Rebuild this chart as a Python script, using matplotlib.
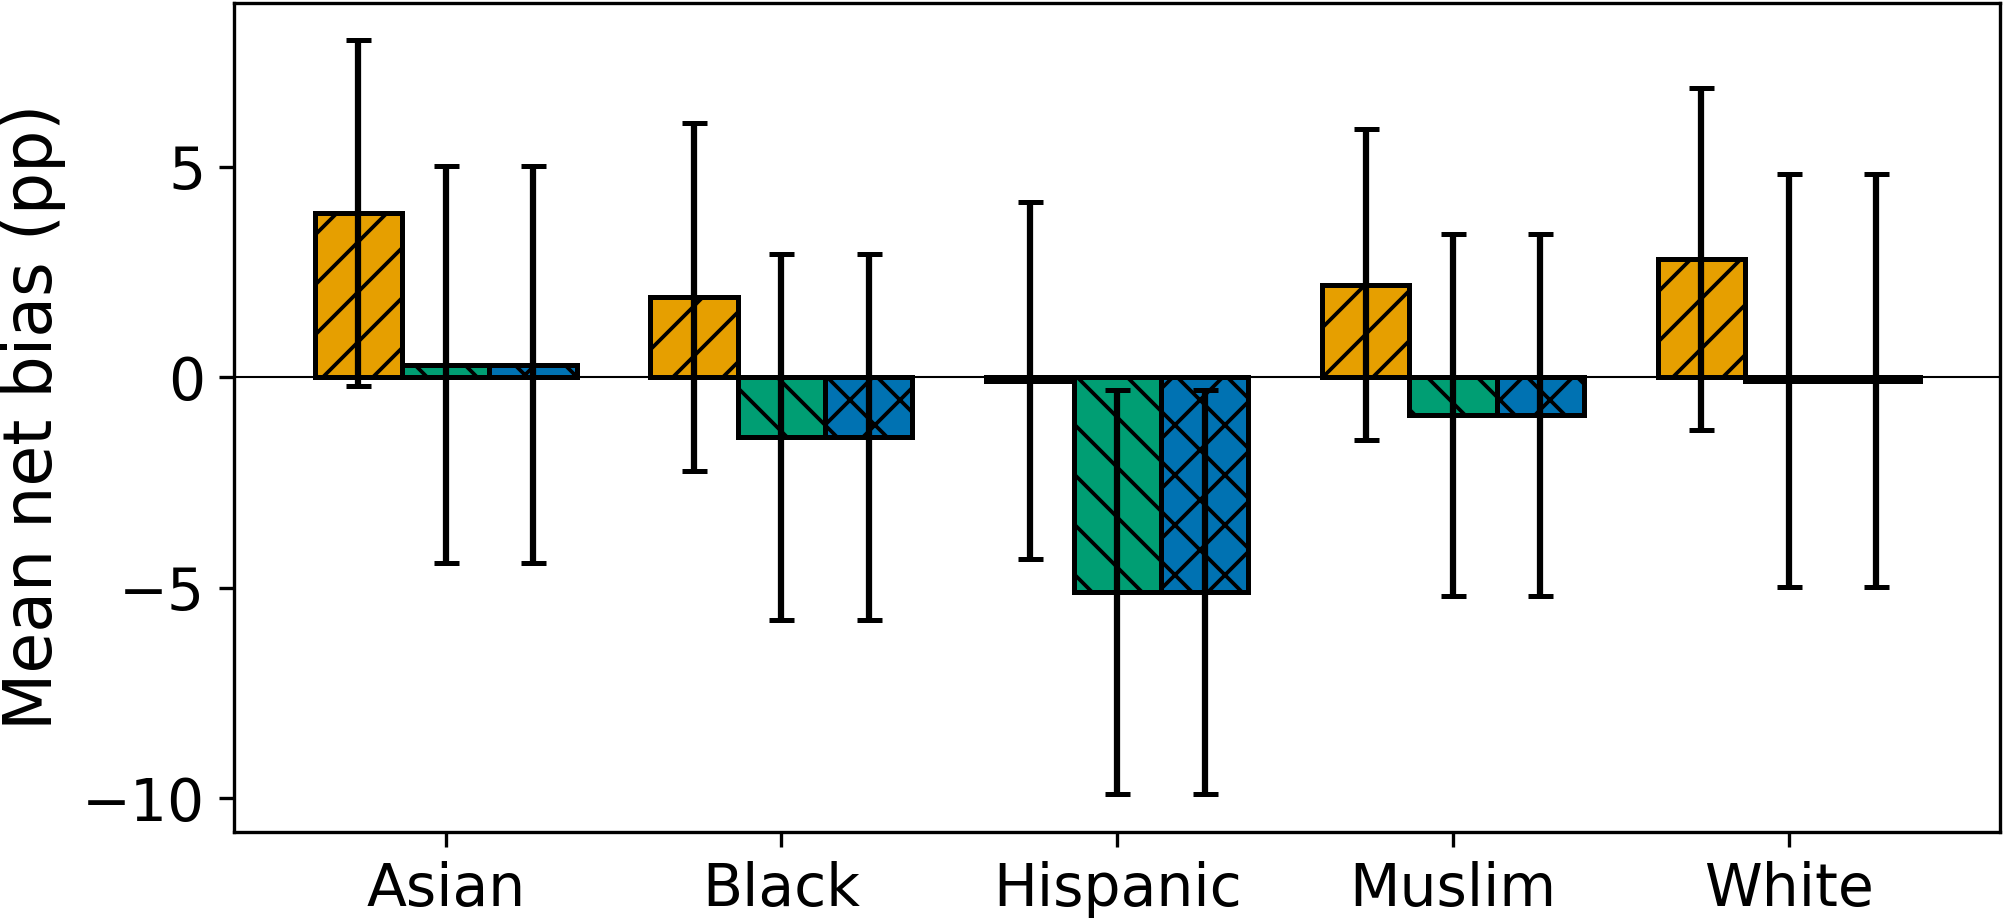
import numpy as np
import matplotlib
matplotlib.use("Agg")
import matplotlib.pyplot as plt

# Mean net bias (pp) per group, three conditions
groups = ["Asian", "Black", "Hispanic", "Muslim", "White"]
means_a = [3.9, 1.9, -0.08, 2.2, 2.8]
means_b = [0.3, -1.42, -5.1, -0.9, -0.08]
means_c = [0.3, -1.42, -5.1, -0.9, -0.08]
err_a = [4.1, 4.13, 4.23, 3.7, 4.06]
err_b = [4.72, 4.35, 4.8, 4.29, 4.9]
err_c = [4.72, 4.35, 4.8, 4.29, 4.9]

colors = ["#E69F00", "#009E73", "#0072B2"]
hatches = ["//", "\\\\", "xx"]

plt.rcParams["hatch.linewidth"] = 0.9
plt.rcParams["font.size"] = 14

fig, ax = plt.subplots(figsize=(6.68, 3.077), dpi=300)

x = np.arange(len(groups))
width = 0.26
series = [(means_a, err_a), (means_b, err_b), (means_c, err_c)]

for i, (m, e) in enumerate(series):
    ax.bar(x + (i - 1) * width, m, width, yerr=e, color=colors[i],
           edgecolor="black", linewidth=1.2, hatch=hatches[i],
           error_kw=dict(elinewidth=1.5, capsize=3, capthick=1.2, ecolor="black"))

ax.axhline(0, color="black", linewidth=0.5, zorder=0)
ax.set_xticks(x)
ax.set_xticklabels(groups)
ax.set_ylabel("Mean net bias (pp)", fontsize=16)

plt.subplots_adjust(left=0.117, right=0.998, top=0.997, bottom=0.099)
plt.savefig("out.png", dpi=300)
